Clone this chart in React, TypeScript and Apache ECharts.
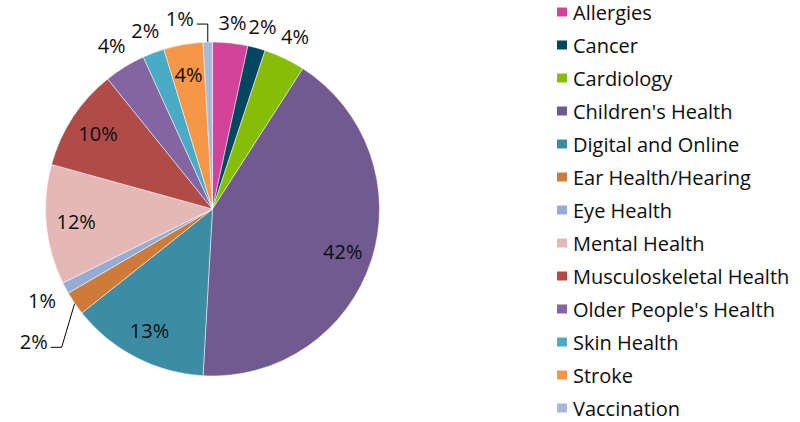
import React, { useEffect, useRef } from "react";
import * as echarts from "echarts";

// ---- data ----
const categories = [
  "Allergies",
  "Cancer",
  "Cardiology",
  "Children's Health",
  "Digital and Online",
  "Ear Health/Hearing",
  "Eye Health",
  "Mental Health",
  "Musculoskeletal Health",
  "Older People's Health",
  "Skin Health",
  "Stroke",
  "Vaccination",
];
const shares = [3.4, 1.7, 4.0, 41.8, 13.4, 2.3, 1.1, 11.6, 9.9, 4.0, 2.1, 3.8, 0.9];

// ---- styles ----
const colors = [
  "#D4439B",
  "#02475F",
  "#86BE05",
  "#715A8F",
  "#3C8CA3",
  "#CE7B39",
  "#96ACD5",
  "#E5B8B8",
  "#B14B48",
  "#8265A1",
  "#4BABC5",
  "#F79647",
  "#A7B8D9",
];
// label placement per slice: inside, outside, or outside with a leader line
const labelPlacement = ["out", "out", "out", "in", "in", "lead", "out", "in", "in", "out", "out", "in", "lead"];
const leaderBend: Record<number, [number, number]> = { 5: [-13, 44], 12: [0, -18] };

const CX = 212.5;
const CY = 209;
const R = 167;
const FONT = "Open Sans";
const FONT_SIZE = 20;
const TEXT_COLOR = "#0d0d0d";

export default function App() {
  const ref = useRef<HTMLDivElement>(null);
  useEffect(() => {
    if (!ref.current) return;
    const chart = echarts.init(ref.current, undefined, { renderer: "svg" });
    const total = shares.reduce((a, b) => a + b, 0);
    const before: number[] = [];
    shares.reduce((acc, v, i) => {
      before[i] = acc;
      return acc + v;
    }, 0);

    const option: any = {
      animation: false,
      backgroundColor: "#ffffff",
      textStyle: { fontFamily: FONT },
      legend: {
        orient: "vertical",
        left: 555,
        top: 1,
        padding: 0,
        itemWidth: 12,
        itemHeight: 11,
        itemGap: 11,
        icon: "rect",
        data: categories,
        textStyle: {
          fontFamily: FONT,
          fontSize: FONT_SIZE,
          color: TEXT_COLOR,
          lineHeight: 22,
        },
      },
      series: [
        {
          type: "pie",
          center: [CX, CY],
          radius: [0, R],
          startAngle: 90,
          clockwise: true,
          avoidLabelOverlap: false,
          itemStyle: { borderColor: "#ffffff", borderWidth: 0.5 },
          label: {
            show: true,
            position: "outside",
            fontFamily: FONT,
            fontSize: FONT_SIZE,
            color: TEXT_COLOR,
            lineHeight: 18,
            formatter: (p: any) => Math.round(p.percent) + "%",
          },
          labelLine: {
            show: false,
            lineStyle: { color: "#000000", width: 1 },
          },
          labelLayout: (params: any) => {
            const i = params.dataIndex;
            const mid = ((before[i] + shares[i] / 2) / total) * Math.PI * 2;
            const s = Math.sin(mid);
            const c = Math.cos(mid);
            const w = params.labelRect.width;
            const h = 18;
            const kind = labelPlacement[i];
            if (kind === "in") {
              const d = R * 0.82;
              return { x: CX + s * d, y: CY - c * d, align: "center", verticalAlign: "middle" };
            }
            if (kind === "out") {
              const d = R + 10 + Math.abs(s) * (w / 2) + Math.abs(c) * (h / 2);
              return { x: CX + s * d, y: CY - c * d, align: "center", verticalAlign: "middle" };
            }
            const p0 = [CX + s * R, CY - c * R];
            const b = leaderBend[i] || [0, 0];
            const p1 = [p0[0] + b[0], p0[1] + b[1]];
            const side = s < 0 ? -1 : 1;
            const p2 = [p1[0] + side * 11, p1[1]];
            return {
              x: p2[0] + side * 3,
              y: p2[1] - 5.5,
              align: side < 0 ? "right" : "left",
              verticalAlign: "middle",
              labelLinePoints: [p0, p1, p2],
            };
          },
          data: categories.map((name, i) => ({
            name,
            value: shares[i],
            itemStyle: { color: colors[i] },
            labelLine: { show: labelPlacement[i] === "lead" },
          })),
        },
      ],
    };
    chart.setOption(option);
    return () => chart.dispose();
  }, []);
  return (
    <div
      ref={ref}
      style={{ position: "fixed", left: 0, top: 0, width: 800, height: 422, background: "#fff" }}
    />
  );
}
